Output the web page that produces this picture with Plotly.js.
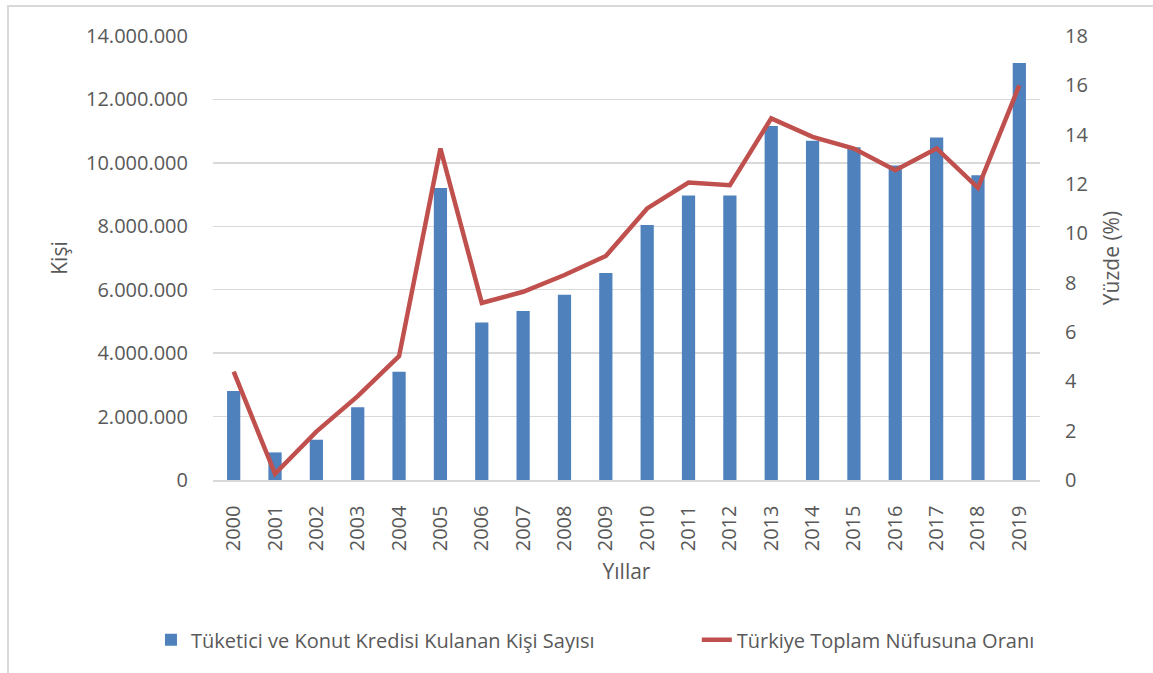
<!DOCTYPE html>
<html>
<head>
<meta charset="utf-8">
<script src="https://cdn.plot.ly/plotly-3.0.1.min.js"></script>
<style>
  html, body { margin: 0; padding: 0; background: #fff; }
  #wrap { position: relative; width: 1153px; height: 673px; overflow: hidden; }
  #chart { position: absolute; left: 0; top: 0; width: 1153px; height: 673px; }
  #frame { position: absolute; left: 7px; top: 5px; width: 1160px; height: 680px;
           border: 2px solid #D9D9D9; box-sizing: border-box; pointer-events: none; }
</style>
</head>
<body>
<div id="wrap">
  <div id="chart"></div>
  <div id="frame"></div>
</div>
<script>
const years = ['2000','2001','2002','2003','2004','2005','2006','2007','2008','2009',
               '2010','2011','2012','2013','2014','2015','2016','2017','2018','2019'];
const kisiSayisi = [2810000, 870000, 1270000, 2290000, 3410000, 9210000, 4970000, 5330000, 5840000, 6530000,
                    8040000, 8970000, 8970000, 11160000, 10700000, 10490000, 9920000, 10800000, 9610000, 13150000];
const nufusOrani = [4.39, 0.25, 1.96, 3.40, 5.02, 13.44, 7.18, 7.63, 8.31, 9.08,
                    11.01, 12.06, 11.95, 14.66, 13.91, 13.44, 12.56, 13.44, 11.84, 16.00];
const barName = 'Tüketici ve Konut Kredisi Kulanan Kişi Sayısı';
const lineName = 'Türkiye Toplam Nüfusuna Oranı';
const leftTicks = [0, 2000000, 4000000, 6000000, 8000000, 10000000, 12000000, 14000000];
const rightTicks = [0, 2, 4, 6, 8, 10, 12, 14, 16, 18];

const FONT = 'Open Sans, Noto Sans, sans-serif';
const TXT = '#595959';

const traces = [
  { type: 'bar', x: years, y: kisiSayisi, name: barName,
    marker: { color: '#4F81BD' }, yaxis: 'y', legend: 'legend' },
  { type: 'scatter', mode: 'lines', x: years, y: nufusOrani, name: lineName,
    line: { color: '#C0504D', width: 4.5 }, yaxis: 'y2', legend: 'legend2' }
];

const legendCommon = { orientation: 'h', xanchor: 'left', y: -0.36, yanchor: 'middle',
                       font: { family: FONT, size: 20, color: TXT }, bgcolor: 'rgba(0,0,0,0)' };

const layout = {
  width: 1153, height: 673,
  margin: { l: 213, r: 113, t: 36, b: 193 },
  paper_bgcolor: 'rgba(0,0,0,0)', plot_bgcolor: '#fff',
  separators: ',.',
  font: { family: FONT, size: 20, color: TXT },
  bargap: 0.68,
  showlegend: true,
  legend: Object.assign({ x: -0.075 }, legendCommon),
  legend2: Object.assign({ x: 0.585 }, legendCommon),
  xaxis: { type: 'category', tickangle: -90, showgrid: false, showline: true, automargin: false,
           linecolor: '#D9D9D9', linewidth: 1.5, ticks: 'outside', ticklen: 16,
           tickcolor: 'rgba(0,0,0,0)', tickfont: { size: 20, color: TXT },
           title: { text: 'Yıllar', font: { size: 21, color: TXT }, standoff: 14 } },
  yaxis: { range: [0, 14000000], tickvals: leftTicks, tickformat: ',', showgrid: true, automargin: false,
           gridcolor: '#D9D9D9', gridwidth: 1.5, zeroline: false, showline: false,
           ticks: 'outside', ticklen: 20, tickcolor: 'rgba(0,0,0,0)',
           tickfont: { size: 20, color: TXT },
           title: { text: 'Kişi', font: { size: 21, color: TXT }, standoff: 12 } },
  yaxis2: { range: [0, 18], tickvals: rightTicks, overlaying: 'y', side: 'right', automargin: false,
            showgrid: false, zeroline: false, showline: false,
            ticks: 'outside', ticklen: 20, tickcolor: 'rgba(0,0,0,0)',
            tickfont: { size: 20, color: TXT },
            title: { text: 'Yüzde (%)', font: { size: 21, color: TXT }, standoff: 16 } }
};

Plotly.newPlot('chart', traces, layout, { staticPlot: true });
</script>
</body>
</html>
